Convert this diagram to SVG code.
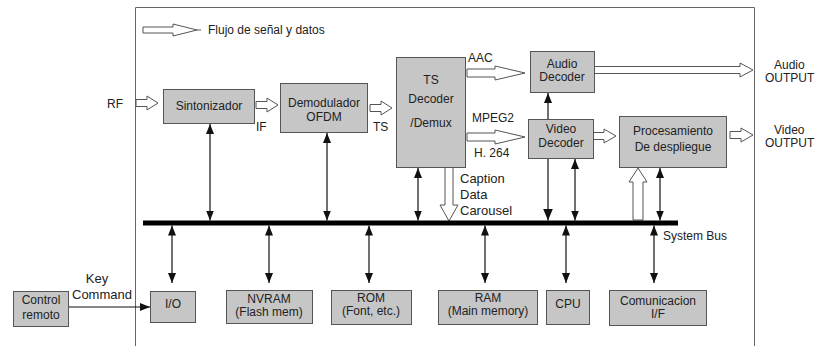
<svg xmlns="http://www.w3.org/2000/svg" width="815" height="346" viewBox="0 0 815 346">
<defs>
<marker id="ah" markerUnits="userSpaceOnUse" markerWidth="10" markerHeight="8" refX="10" refY="4" orient="auto-start-reverse"><path d="M0,0 L10,4 L0,8 z" fill="#111"/></marker>
<marker id="ahb" markerUnits="userSpaceOnUse" markerWidth="12" markerHeight="10" refX="12" refY="5" orient="auto-start-reverse"><path d="M0,0 L12,5 L0,10 z" fill="#111"/></marker>
<style>
text{font-family:"Liberation Sans",Arial,sans-serif;font-size:12px;fill:#222}
.c{text-anchor:middle}
.big{font-size:13px}
.box{fill:#c6c6c6;stroke:#555;stroke-width:1}
.ha{fill:#fff;stroke:#555;stroke-width:1}
.ln{stroke:#111;stroke-width:1.2;fill:none}
.d{marker-start:url(#ah);marker-end:url(#ah)}
.s{marker-end:url(#ah)}
</style>
</defs>
<rect width="815" height="346" fill="#fff"/>
<path d="M135.5,346 V7.5 H754.5 V346" fill="none" stroke="#666" stroke-width="1"/>

<g id="legend">
<polygon class="ha" points="143,27 173,27 173,24 197,30 173,36 173,33 143,33"/>
<line x1="197" y1="30" x2="201" y2="30" stroke="#555"/>
<text x="208" y="34">Flujo de señal y datos</text>
</g>

<g id="connectors">
<polygon class="ha" points="136,99.5 147,99.5 147,96 158,103 147,110 147,106.5 136,106.5"/>
<polygon class="ha" points="256,101.5 267,101.5 267,98 278,105 267,112 267,108.5 256,108.5"/>
<polygon class="ha" points="370,104.5 381,104.5 381,101 392,108 381,115 381,111.5 370,111.5"/>
<polygon class="ha" points="467,69 495,69 495,66 525,73 495,80 495,77 467,77"/>
<polygon class="ha" points="467,133 495,133 495,130 525,137 495,144 495,141 467,141"/>
<polygon class="ha" points="594,66.5 740,66.5 740,63 753,70 740,77 740,73.5 594,73.5"/>
<polygon class="ha" points="593,132.5 604,132.5 604,129 616,136 604,143 604,139.5 593,139.5"/>
<polygon class="ha" points="730,131.5 741,131.5 741,128 753,135 741,142 741,138.5 730,138.5"/>
<polygon class="ha" points="445,167 453,167 453,205 458,205 449,221 440,205 445,205"/>
<polygon class="ha" points="633,220 643,220 643,182 647,182 638,168 629,182 633,182"/>
<line x1="143" y1="223" x2="678" y2="223" stroke="#000" stroke-width="5"/>
<line class="ln d" x1="210" y1="124" x2="210" y2="220.5"/>
<line class="ln d" x1="327" y1="133" x2="327" y2="220.5"/>
<line class="ln d" x1="418" y1="168" x2="418" y2="220.5"/>
<line class="ln" x1="548" y1="159" x2="548" y2="220.5" marker-end="url(#ahb)"/>
<line class="ln s" x1="548" y1="119" x2="548" y2="93"/>
<line class="ln d" x1="575" y1="159" x2="575" y2="220.5"/>
<line class="ln d" x1="660" y1="168" x2="660" y2="220.5"/>
<line class="ln d" x1="172" y1="225.5" x2="172" y2="283"/>
<line class="ln d" x1="269" y1="225.5" x2="269" y2="283"/>
<line class="ln d" x1="369" y1="225.5" x2="369" y2="283"/>
<line class="ln d" x1="485" y1="225.5" x2="485" y2="283"/>
<line class="ln d" x1="566" y1="225.5" x2="566" y2="283"/>
<line class="ln d" x1="654" y1="225.5" x2="654" y2="283"/>
<line class="ln s" x1="68" y1="307" x2="150" y2="307"/>
</g>

<g id="labels">
<text x="107" y="108">RF</text>
<text x="256" y="131">IF</text>
<text x="373" y="131">TS</text>
<text x="468" y="62">AAC</text>
<text x="472" y="122">MPEG2</text>
<text x="474" y="157">H. 264</text>
<text x="774" y="69">Audio</text>
<text x="765" y="82">OUTPUT</text>
<text x="774" y="134">Video</text>
<text x="765" y="147">OUTPUT</text>
<text class="big" x="460" y="183">Caption</text>
<text class="big" x="460" y="199">Data</text>
<text class="big" x="460" y="215">Carousel</text>
<text x="663" y="240">System Bus</text>
<text class="big c" x="97" y="283">Key</text>
<text class="big" x="72" y="299">Command</text>
</g>

<g id="sintonizador"><rect class="box" x="163.5" y="89.5" width="91" height="34"/><text class="c" x="209" y="110">Sintonizador</text></g>
<g id="demodulador"><rect class="box" x="280.5" y="83.5" width="87" height="49"/><text class="c" x="324" y="107">Demodulador</text><text class="c" x="324" y="121">OFDM</text></g>
<g id="tsdecoder"><rect class="box" x="396.5" y="57.5" width="69" height="110"/><text class="c" x="431" y="84">TS</text><text class="c" x="431" y="103">Decoder</text><text class="c" x="431" y="127">/Demux</text></g>
<g id="audiodecoder"><rect class="box" x="530.5" y="51.5" width="64" height="41"/><text class="c" x="562" y="68">Audio</text><text class="c" x="562" y="81">Decoder</text></g>
<g id="videodecoder"><rect class="box" x="528.5" y="119.5" width="65" height="39"/><text class="c" x="561" y="133">Video</text><text class="c" x="561" y="147">Decoder</text></g>
<g id="procesamiento"><rect class="box" x="619.5" y="116.5" width="107" height="51"/><text class="c" x="673" y="135">Procesamiento</text><text class="c" x="673" y="151">De  despliegue</text></g>
<g id="control"><rect class="box" x="13.5" y="291.5" width="55" height="35"/><text class="c" x="41" y="304">Control</text><text class="c" x="41" y="319">remoto</text></g>
<g id="io"><rect class="box" x="150.5" y="291.5" width="45" height="31"/><text class="c" x="173" y="308">I/O</text></g>
<g id="nvram"><rect class="box" x="226.5" y="290.5" width="86" height="33"/><text class="c" x="269" y="303">NVRAM</text><text class="c" x="269" y="316">(Flash mem)</text></g>
<g id="rom"><rect class="box" x="331.5" y="290.5" width="80" height="34"/><text class="c" x="371" y="302">ROM</text><text class="c" x="371" y="315">(Font, etc.)</text></g>
<g id="ram"><rect class="box" x="438.5" y="290.5" width="99" height="34"/><text class="c" x="488" y="302">RAM</text><text class="c" x="488" y="315">(Main memory)</text></g>
<g id="cpu"><rect class="box" x="546.5" y="290.5" width="43" height="34"/><text class="c" x="568" y="308">CPU</text></g>
<g id="comunicacion"><rect class="box" x="609.5" y="290.5" width="97" height="35"/><text class="c" x="658" y="305">Comunicacion</text><text class="c" x="658" y="318">I/F</text></g>
</svg>
